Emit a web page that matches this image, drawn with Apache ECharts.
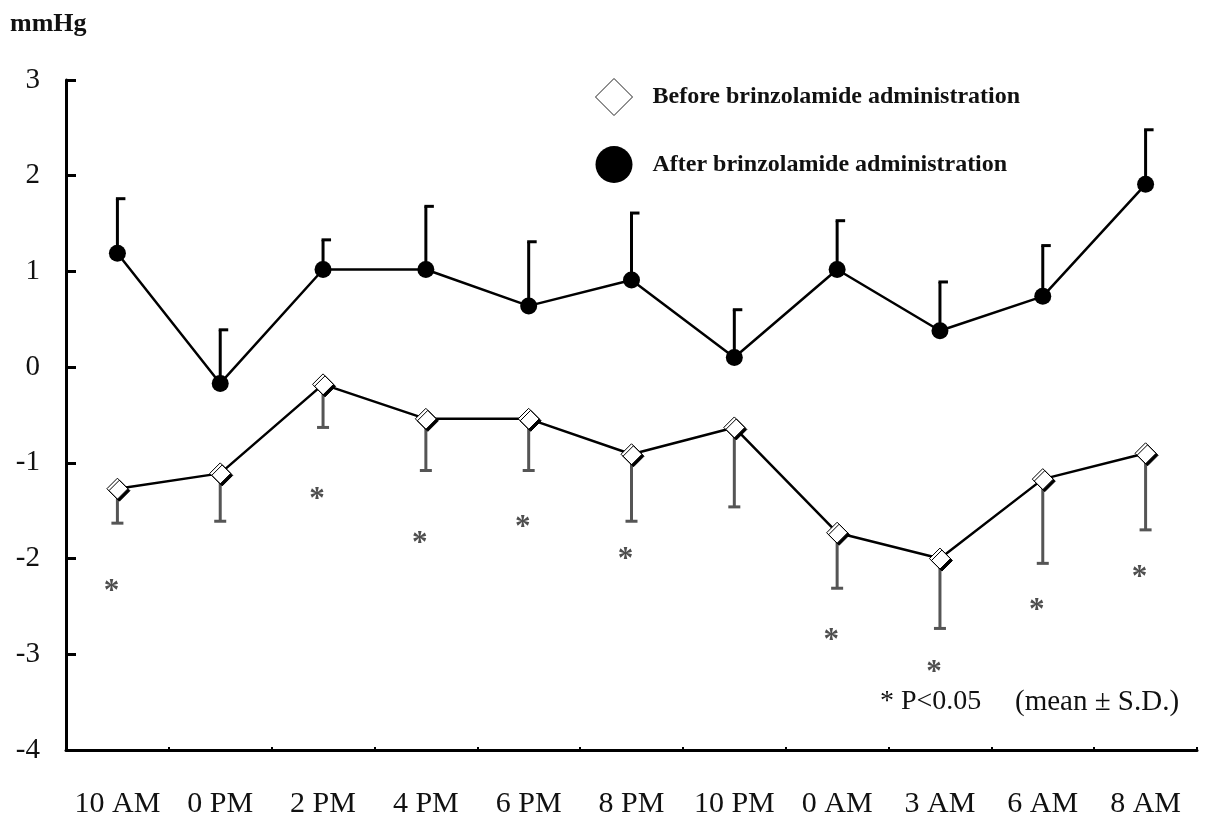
<!DOCTYPE html>
<html>
<head>
<meta charset="utf-8">
<script src="https://cdn.jsdelivr.net/npm/echarts@6/dist/echarts.min.js"></script>
<style>
html,body{margin:0;padding:0;background:#fff;}
#chart{width:1207px;height:820px;}
</style>
</head>
<body>
<div id="chart"></div>
<script>
// ---- data ----
var categories = ['10 AM', '0 PM', '2 PM', '4 PM', '6 PM', '8 PM', '10 PM', '0 AM', '3 AM', '6 AM', '8 AM'];
var beforeMean = [-1.27, -1.11, -0.18, -0.54, -0.54, -0.91, -0.63, -1.73, -2.00, -1.17, -0.90];
var beforeLow  = [-1.63, -1.61, -0.63, -1.08, -1.08, -1.61, -1.46, -2.31, -2.73, -2.05, -1.70];
var afterMean  = [1.19, -0.17, 1.02, 1.02, 0.64, 0.91, 0.10, 1.02, 0.38, 0.74, 1.91];
var afterHigh  = [1.76, 0.39, 1.33, 1.68, 1.31, 1.61, 0.60, 1.53, 0.89, 1.27, 2.48];
var starY      = [-2.30, null, -1.34, -1.80, -1.63, -1.96, null, -2.81, -3.14, -2.50, -2.15];
var yTicks = {min: -4, max: 3, interval: 1};
var nameBefore = 'Before brinzolamide administration';
var nameAfter = 'After brinzolamide administration';

var FONT = '"Liberation Serif", "Times New Roman", serif';

function errData(mean, end) {
  return mean.map(function (m, i) { return [i, m, end[i]]; });
}
function errRender(color, width, capL, capR) {
  return function (params, api) {
    var x = api.value(0);
    var p0 = api.coord([x, api.value(1)]);
    var p1 = api.coord([x, api.value(2)]);
    var st = {stroke: color, lineWidth: width};
    return {
      type: 'group',
      children: [
        {type: 'line', shape: {x1: p0[0], y1: p0[1], x2: p1[0], y2: p1[1]}, style: st},
        {type: 'line', shape: {x1: p1[0] - capL, y1: p1[1], x2: p1[0] + capR, y2: p1[1]}, style: st}
      ]
    };
  };
}

var chart = echarts.init(document.getElementById('chart'), null, {renderer: 'canvas'});
chart.setOption({
  animation: false,
  backgroundColor: '#fff',
  textStyle: {fontFamily: FONT},
  grid: {left: 66, right: 10, top: 80, bottom: 70},
  legend: {
    orient: 'vertical',
    left: 590,
    top: 73,
    itemWidth: 37,
    itemHeight: 37,
    itemGap: 30,
    selectedMode: false,
    textStyle: {fontFamily: FONT, fontSize: 24, fontWeight: 'bold', color: '#111', padding: [0, 0, 0, 15]},
    data: [
      {name: nameBefore, icon: 'diamond', itemStyle: {color: '#fff', borderColor: '#222', borderWidth: 1, shadowColor: 'rgba(0,0,0,0)', shadowOffsetX: 0, shadowOffsetY: 0}},
      {name: nameAfter, icon: 'circle', itemStyle: {color: '#000', borderWidth: 0}}
    ]
  },
  graphic: [
    {type: 'text', left: 10, top: 11, style: {text: 'mmHg', font: 'bold 26px ' + FONT, fill: '#111'}},
    {type: 'text', left: 880, top: 688, style: {text: '* P<0.05', font: '28px ' + FONT, fill: '#111'}},
    {type: 'text', left: 1015, top: 688, style: {text: '(mean \u00B1 S.D.)', font: '29px ' + FONT, fill: '#111'}}
  ],
  xAxis: {
    type: 'category',
    data: categories,
    boundaryGap: true,
    axisLine: {onZero: false, lineStyle: {color: '#000', width: 3}},
    axisTick: {show: true, inside: true, length: 3, lineStyle: {color: '#000', width: 2}},
    axisLabel: {interval: 0, margin: 39, fontFamily: FONT, fontSize: 30, color: '#111'},
    splitLine: {show: false}
  },
  yAxis: {
    type: 'value',
    min: yTicks.min,
    max: yTicks.max,
    interval: yTicks.interval,
    axisLine: {show: true, lineStyle: {color: '#000', width: 3}},
    axisTick: {show: true, inside: true, length: 10, lineStyle: {color: '#000', width: 3}},
    axisLabel: {margin: 26, fontFamily: FONT, fontSize: 29, color: '#111'},
    splitLine: {show: false}
  },
  series: [
    {
      type: 'custom',
      name: 'afterErr',
      z: 1,
      data: errData(afterMean, afterHigh),
      encode: {x: 0, y: [1, 2]},
      renderItem: errRender('#000', 3, 1.5, 8)
    },
    {
      type: 'custom',
      name: 'beforeErr',
      z: 1,
      data: errData(beforeMean, beforeLow),
      encode: {x: 0, y: [1, 2]},
      renderItem: errRender('#555', 3, 6, 6)
    },
    {
      type: 'line',
      name: nameBefore,
      z: 3,
      data: beforeMean,
      symbol: 'diamond',
      symbolSize: [21, 21],
      lineStyle: {color: '#000', width: 2.5},
      itemStyle: {color: '#fff', borderColor: '#000', borderWidth: 1, shadowColor: '#000', shadowOffsetX: 2, shadowOffsetY: 2, shadowBlur: 0}
    },
    {
      type: 'line',
      name: nameAfter,
      z: 3,
      data: afterMean,
      symbol: 'circle',
      symbolSize: 17,
      lineStyle: {color: '#000', width: 2.5},
      itemStyle: {color: '#000'}
    },
    {
      type: 'scatter',
      name: 'sig',
      z: 4,
      data: starY,
      symbolSize: 2,
      itemStyle: {color: 'rgba(0,0,0,0)'},
      label: {show: true, position: 'inside', formatter: '*', fontFamily: FONT, fontSize: 31, fontWeight: 'bold', color: '#222', offset: [-6, 5]}
    }
  ]
});
</script>
</body>
</html>
